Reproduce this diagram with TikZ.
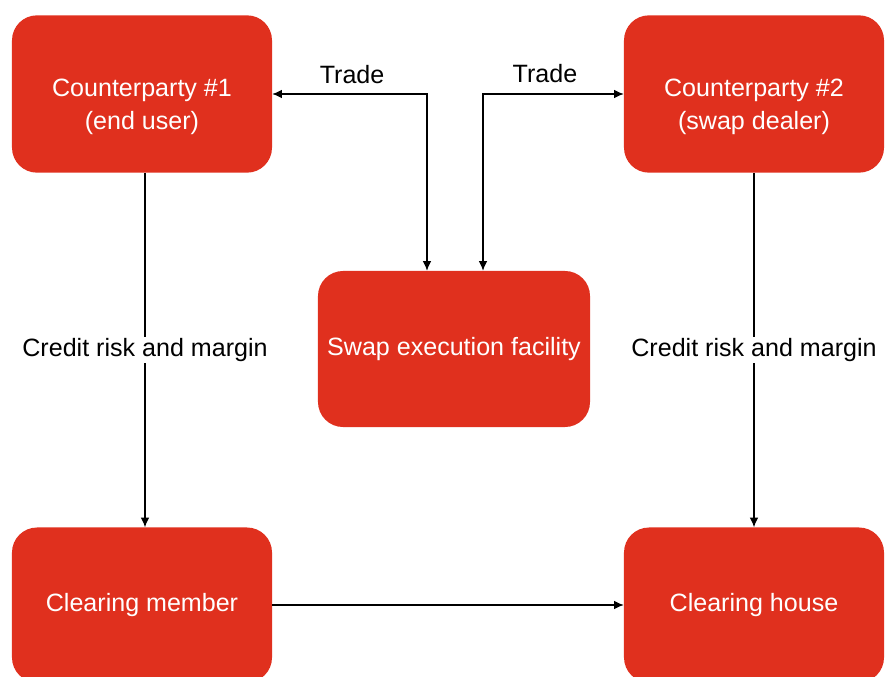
\documentclass[tikz,border=0pt]{standalone}
\usepackage{fontspec}
\setmainfont{Liberation Sans}
\usepackage{tikz}
\usetikzlibrary{arrows.meta}
\definecolor{swapred}{HTML}{E0301E}
\newcommand{\lowstrut}{\rule{0pt}{37pt}}

\begin{document}
\begin{tikzpicture}[x=0.03cm, y=-0.03cm, >={Latex[length=2.9mm, width=2.6mm]}]
\tikzset{party/.style = {shape=rectangle, rounded corners=0.75cm, fill=swapred, text=white, align=center, minimum width=7.8cm, minimum height=4.72cm, font=\fontsize{21.4}{27.5}\selectfont}}
    \tikzset{link/.style = {draw=black, line width=1.1pt}}
    \tikzset{tag/.style = {font=\fontsize{21.4}{27.5}\selectfont, text=black}}
\useasboundingbox (0,0) rectangle (885,677);
% the five boxes
\node[party] (cp1) at (142,94){\lowstrut Counterparty \#1\\(end user)};
\node[party] (cp2) at (754,94){\lowstrut Counterparty \#2\\(swap dealer)};
\node[party, minimum width=8.16cm, minimum height=4.68cm] (sef) at (454,349){Swap execution facility};
\node[party, minimum height=4.65cm] (cm) at (142,605){Clearing member};
\node[party, minimum height=4.65cm] (ch) at (754,605){Clearing house};

% trades go through the facility
\draw[link, <->] (cp1.east) -| node[tag, pos=0.258, above=5pt]{Trade} ([xshift=-0.81cm]sef.north);
\draw[link, <->] (cp2.west) -| node[tag, pos=0.28, above=6pt]{Trade} ([xshift=0.87cm]sef.north);

% margin flows down to the clearing side
\draw[link, ->] ([xshift=0.09cm]cp1.south) to node[tag, fill=white, inner sep=1pt]{Credit risk and margin} ([xshift=0.09cm]cm.north);
\draw[link, ->] (cp2) to node[tag, fill=white, inner sep=1pt]{Credit risk and margin} (ch);
\draw[link, ->] (cm) to (ch);

\end{tikzpicture}
\end{document}
